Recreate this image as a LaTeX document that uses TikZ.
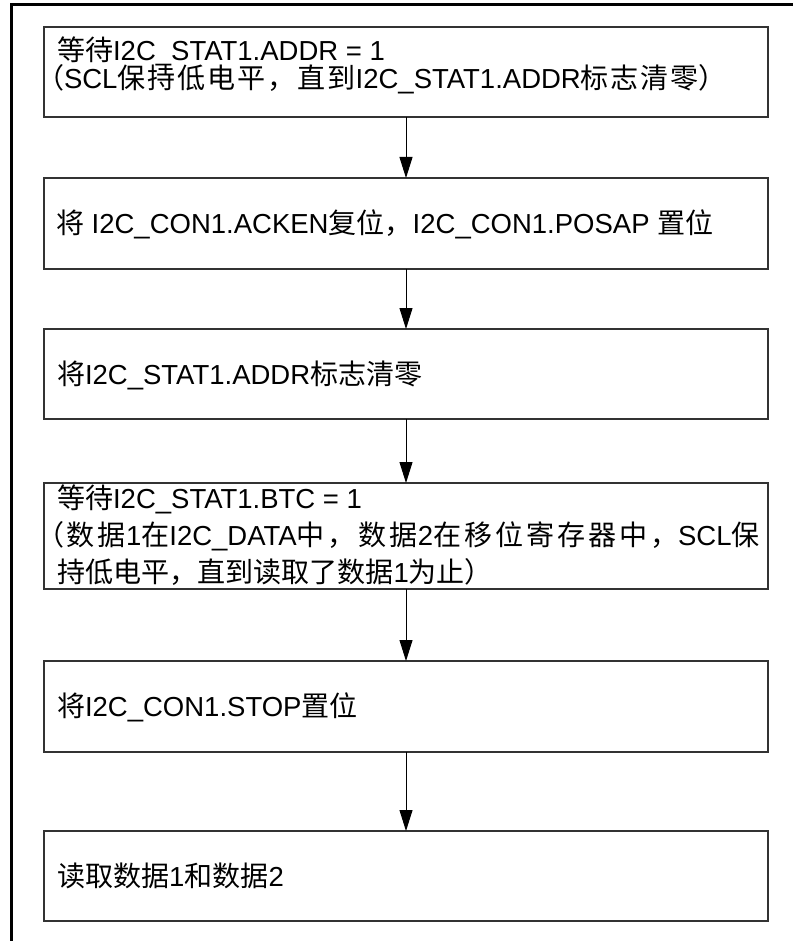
\documentclass[tikz,border=0pt]{standalone}
\usepackage{fontspec}
\setmainfont{Liberation Sans}
\newfontfamily\cjk[Scale=1.02]{Noto Sans CJK SC}
\newfontfamily\cjkwide[Scale=1.02,LetterSpace=7]{Noto Sans CJK SC}
\newfontfamily\cjkwider[Scale=1.02,LetterSpace=10.5]{Noto Sans CJK SC}
\usetikzlibrary{arrows.meta}
\newcommand{\zh}[1]{{\cjk #1}}
\newcommand{\zhw}[1]{{\cjkwide #1}}
\newcommand{\zhww}[1]{{\cjkwider #1}}
\begin{document}
\begin{tikzpicture}[x=1pt,y=-1pt,
  box/.style={draw=black!80, line width=1.3pt, rectangle, minimum width=724pt, inner sep=0pt, outer sep=0pt},
  txt/.style={anchor=base west, inner sep=0pt, outer sep=0pt, font=\fontsize{27.5}{33}\selectfont},
  flow/.style={draw=black, line width=1pt, -{Triangle[length=21pt,width=13pt]}},
  frameline/.style={line width=3pt, black}]
\useasboundingbox (0,0) rectangle (793,941);
% outer frame (partially visible)
\draw[frameline] (11.5,941) -- (11.5,5) -- (793,5);
% boxes
\node[box, minimum height=90pt]  (b1) at (406,72)    {};
\node[box, minimum height=91pt]  (b2) at (406,223.5) {};
\node[box, minimum height=90pt]  (b3) at (406,374)   {};
\node[box, minimum height=106pt] (b4) at (406,536)   {};
\node[box, minimum height=91pt]  (b5) at (406,706.5) {};
\node[box, minimum height=90pt]  (b6) at (406,876)   {};
% texts
\node[txt] (t1a) at (57,61) {\zh{等待}I2C\_STAT1.ADDR = 1};
\node[txt] (t1b) at (36,89) {\zh{（}SCL\zhw{保持低电平，直到}I2C\_STAT1.ADDR\zhw{标志清零}\zh{）}};
\node[txt] (t2) at (56,233.5) {\zh{将} I2C\_CON1.ACKEN\zh{复位，}I2C\_CON1.POSAP \zh{置位}};
\node[txt] (t3) at (57,384) {\zh{将}I2C\_STAT1.ADDR\zh{标志清零}};
\node[txt] (t4a) at (57,508) {\zh{等待}I2C\_STAT1.BTC = 1};
\node[txt] (t4b) at (36,545) {\zhww{（数据}1\zhww{在}I2C\_DATA\zhww{中，数据}2\zhww{在移位寄存器中，}SCL\zh{保}};
\node[txt] (t4c) at (57,582) {\zh{持低电平，直到读取了数据}1\zh{为止）}};
\node[txt] (t5) at (57,716.5) {\zh{将}I2C\_CON1.STOP\zh{置位}};
\node[txt] (t6) at (57,886) {\zh{读取数据}1\zh{和数据}2};
% connectors
\draw[flow] (b1.south) -- (b2.north);
\draw[flow] (b2.south) -- (b3.north);
\draw[flow] (b3.south) -- (b4.north);
\draw[flow] (b4.south) -- (b5.north);
\draw[flow] (b5.south) -- (b6.north);
\end{tikzpicture}
\end{document}
